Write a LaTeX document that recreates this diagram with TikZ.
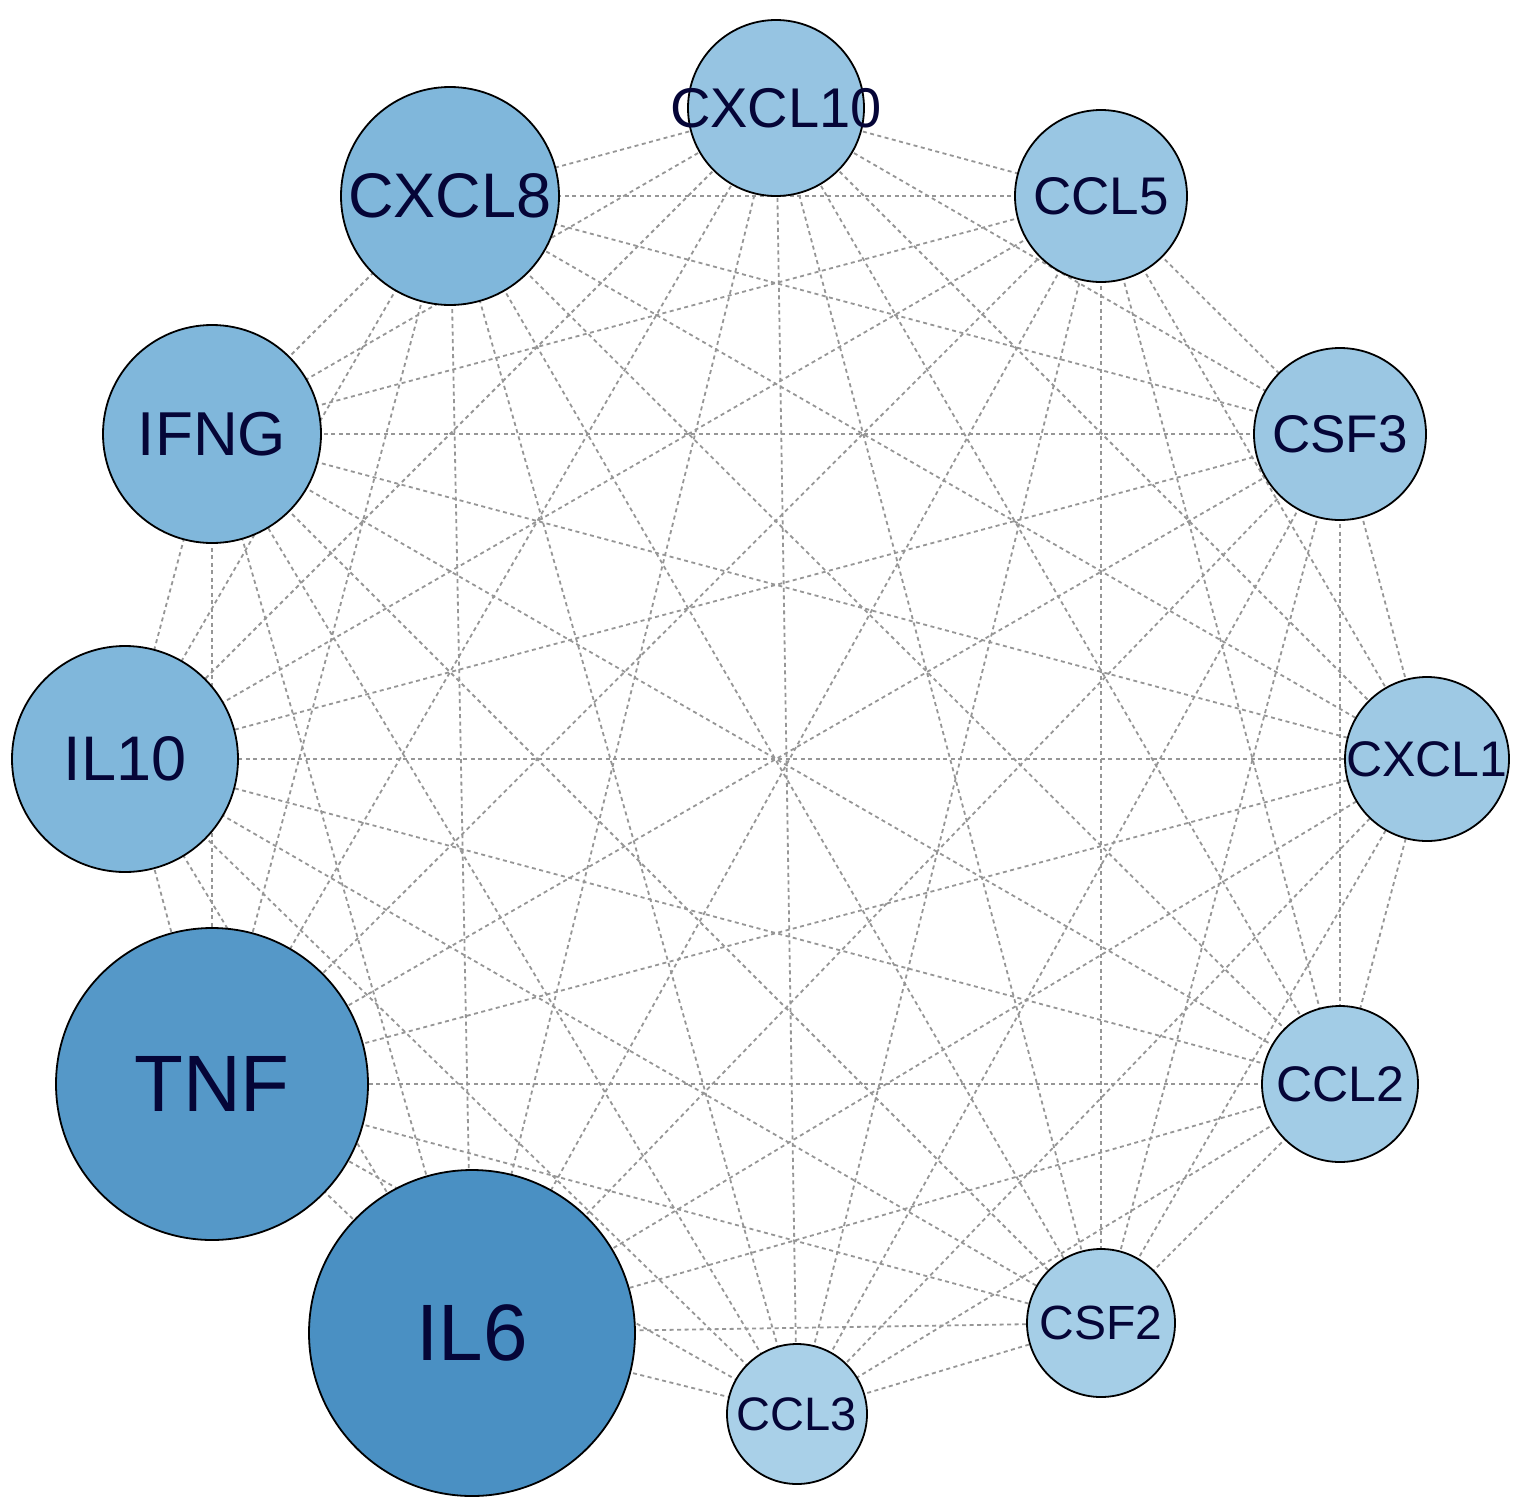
\documentclass[tikz,border=0pt]{standalone}
\usepackage{fontspec}
\setmainfont{Liberation Sans}
\definecolor{edgegray}{RGB}{150,150,150}
\definecolor{labcol}{RGB}{5,5,55}
\definecolor{cA}{RGB}{74,144,195}   % IL6
\definecolor{cB}{RGB}{85,152,200}   % TNF
\definecolor{cC}{RGB}{128,183,219}  % CXCL8 IFNG IL10
\definecolor{cD}{RGB}{150,196,226}  % CXCL10
\definecolor{cE}{RGB}{153,198,227}  % CCL5
\definecolor{cF}{RGB}{155,199,227}  % CSF3
\definecolor{cG}{RGB}{158,201,228}  % CXCL1
\definecolor{cH}{RGB}{162,204,230}  % CCL2
\definecolor{cI}{RGB}{165,206,231}  % CSF2
\definecolor{cJ}{RGB}{169,208,232}  % CCL3
\pgfdeclarelayer{edgelayer}
\pgfsetlayers{edgelayer,main}
\tikzset{
  gene/.style 2 args={circle, draw=black, line width=1.8pt, fill=#2,
    minimum size=#1, inner sep=0pt, outer sep=0pt},
  genelab/.style={text=labcol, inner sep=0pt, font=\fontsize{#1}{#1}\selectfont},
  edge/.style={draw=edgegray, line width=1.8pt, dash pattern=on 4pt off 3.5pt}
}
\begin{document}
\begin{tikzpicture}[x=1pt,y=-1pt]
\useasboundingbox (0,0) rectangle (1521,1505);
% nodes
\node[gene={176pt}{cD}] (cxcl10) at (776,108) {};
\node[gene={172pt}{cE}] (ccl5)   at (1101,196) {};
\node[gene={172pt}{cF}] (csf3)   at (1340,434) {};
\node[gene={164pt}{cG}] (cxcl1)  at (1427,759) {};
\node[gene={156pt}{cH}] (ccl2)   at (1340,1084) {};
\node[gene={148pt}{cI}] (csf2)   at (1101,1323) {};
\node[gene={140pt}{cJ}] (ccl3)   at (797,1414) {};
\node[gene={326pt}{cA}] (il6)    at (472,1333) {};
\node[gene={312pt}{cB}] (tnf)    at (212,1084) {};
\node[gene={226pt}{cC}] (il10)   at (125,759) {};
\node[gene={218pt}{cC}] (ifng)   at (212,434) {};
\node[gene={218pt}{cC}] (cxcl8)  at (450,196) {};
% edges (complete graph), behind the nodes
\begin{pgfonlayer}{edgelayer}
\fill[white] (0,0) rectangle (1521,1505);
\foreach \a [count=\i] in {cxcl10,ccl5,csf3,cxcl1,ccl2,csf2,ccl3,il6,tnf,il10,ifng,cxcl8}{
  \foreach \b [count=\j] in {cxcl10,ccl5,csf3,cxcl1,ccl2,csf2,ccl3,il6,tnf,il10,ifng,cxcl8}{
    \ifnum\j>\i \draw[edge] (\a.center) -- (\b.center); \fi
  }
}
\end{pgfonlayer}
% labels
\node[genelab=56] at (cxcl10) {CXCL10};
\node[genelab=53] at (ccl5) {CCL5};
\node[genelab=53] at (csf3) {CSF3};
\node[genelab=50] at (cxcl1) {CXCL1};
\node[genelab=50] at (ccl2) {CCL2};
\node[genelab=48] at (csf2) {CSF2};
\node[genelab=47] at (ccl3) {CCL3};
\node[genelab=80] at (il6) {IL6};
\node[genelab=80] at (tnf) {TNF};
\node[genelab=63] at (il10) {IL10};
\node[genelab=62] at (ifng) {IFNG};
\node[genelab=63] at (cxcl8) {CXCL8};
\end{tikzpicture}
\end{document}
